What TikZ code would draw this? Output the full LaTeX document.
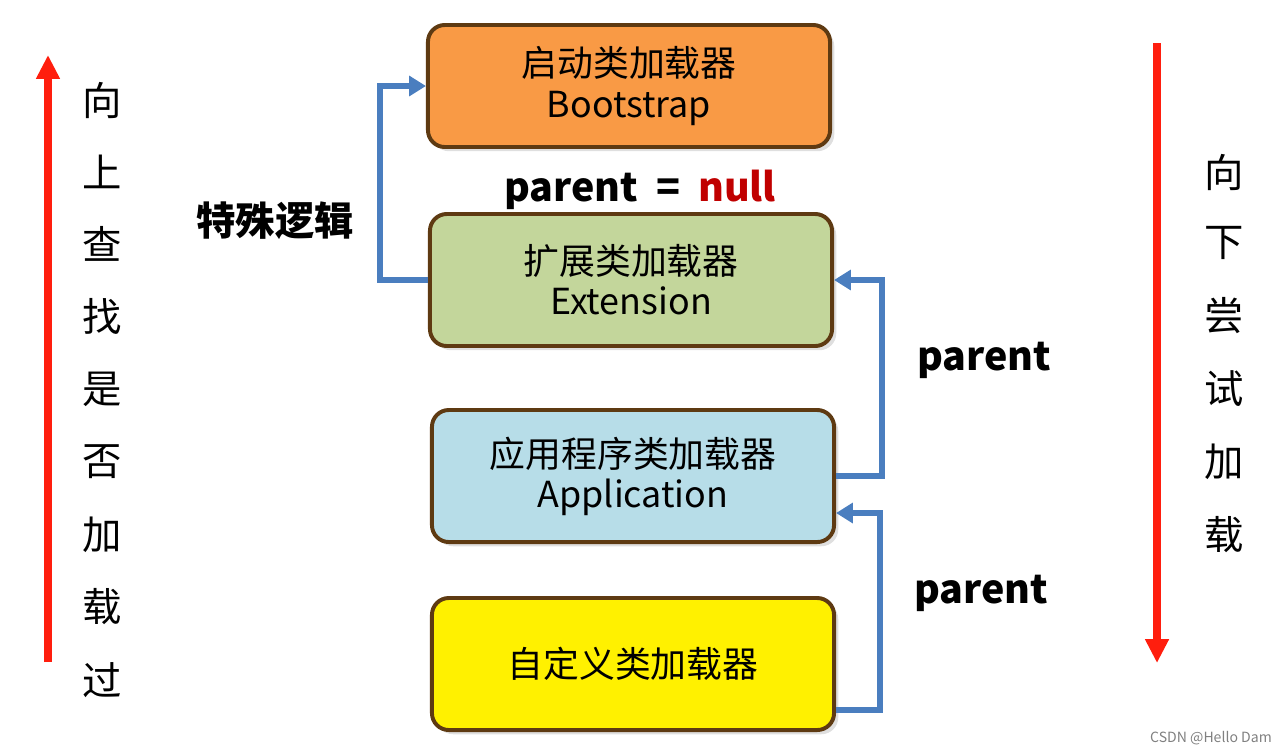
\documentclass[tikz,border=0pt]{standalone}
\usepackage{fontspec}
\setmainfont{Noto Sans CJK SC}
\usetikzlibrary{arrows.meta,shadows}

\definecolor{bootfill}{HTML}{F99A45}
\definecolor{extfill}{HTML}{C3D69B}
\definecolor{appfill}{HTML}{B7DDE8}
\definecolor{userfill}{HTML}{FFF100}
\definecolor{boxline}{HTML}{5E3A12}
\definecolor{linkblue}{HTML}{4A7EBF}
\definecolor{arrowred}{HTML}{FF1E0E}
\definecolor{nullred}{HTML}{C00000}

\begin{document}
\begin{tikzpicture}[x=0.025cm, y=-0.025cm,
    loader/.style={draw=boxline, line width=2.8pt, rounded corners=12pt,
      minimum width=10.05cm, minimum height=3.3cm, align=center,
      font=\fontsize{25.5}{28.5}\selectfont,
      drop shadow={shadow xshift=3pt, shadow yshift=-3pt, opacity=.25}},
    link/.style={draw=linkblue, line width=4pt,
      -{Triangle[width=14pt,length=12pt]}},
    redarrow/.style={draw=arrowred, line width=5.7pt,
      -{Triangle[width=16pt,length=17pt]}},
    vchar/.style={font=\fontsize{28}{28}\selectfont},
    tag/.style={font=\fontsize{28}{28}\selectfont\bfseries}]
  \useasboundingbox (0, 0) rectangle (1280, 752);

  % loaders
  \node[loader, fill=bootfill, minimum height=3.05cm] (boot) at (629, 86) {启动类加载器\\Bootstrap};
  \node[loader, fill=extfill] (ext) at (631, 280) {扩展类加载器\\Extension};
  \node[loader, fill=appfill] (app) at (633, 476) {应用程序类加载器\\Application};
  \node[loader, fill=userfill] (user) at (633, 664) {自定义类加载器};

  % parent links
  \draw[link] (ext.west) -- ++(-48, 0) |- (boot.west);
  \draw[link] (app.east) -- ++(46, 0) |- (ext.east);
  \draw[link] ([yshift=-1.15cm]user.east) -- ++(44, 0) |- ([yshift=-0.925cm]app.east);

  \node[tag, anchor=center] (nulltag) at (640, 190) {parent\ \ =\ \ \textcolor{nullred}{null}};
  \node[tag, anchor=center] (special) at (275, 221) {特殊逻辑};
  \node[tag, anchor=center] (extparent) at (984, 360) {parent};
  \node[tag, anchor=center] (appparent) at (981, 593) {parent};

  % search up / try down
  \coordinate (upfrom) at (48, 662);
  \coordinate (upto) at (48, 55);
  \draw[redarrow] (upfrom) -- (upto);
  \coordinate (downfrom) at (1157, 43);
  \coordinate (downto) at (1157, 663);
  \draw[redarrow] (downfrom) -- (downto);

  \node[vchar, anchor=center] (up1) at (102, 100) {向};
  \node[vchar, anchor=center] (up2) at (102, 172) {上};
  \node[vchar, anchor=center] (up3) at (102, 244) {查};
  \node[vchar, anchor=center] (up4) at (102, 317) {找};
  \node[vchar, anchor=center] (up5) at (102, 389) {是};
  \node[vchar, anchor=center] (up6) at (102, 462) {否};
  \node[vchar, anchor=center] (up7) at (102, 535) {加};
  \node[vchar, anchor=center] (up8) at (102, 607) {载};
  \node[vchar, anchor=center] (up9) at (102, 680) {过};

  \node[vchar, anchor=center] (down1) at (1224, 172) {向};
  \node[vchar, anchor=center] (down2) at (1224, 243) {下};
  \node[vchar, anchor=center] (down3) at (1224, 316) {尝};
  \node[vchar, anchor=center] (down4) at (1224, 389) {试};
  \node[vchar, anchor=center] (down5) at (1224, 462) {加};
  \node[vchar, anchor=center] (down6) at (1224, 535) {载};

  \node[anchor=center, text=gray, font=\fontsize{10}{10}\selectfont] (mark) at (1211, 738) {CSDN @Hello Dam};
\end{tikzpicture}
\end{document}
